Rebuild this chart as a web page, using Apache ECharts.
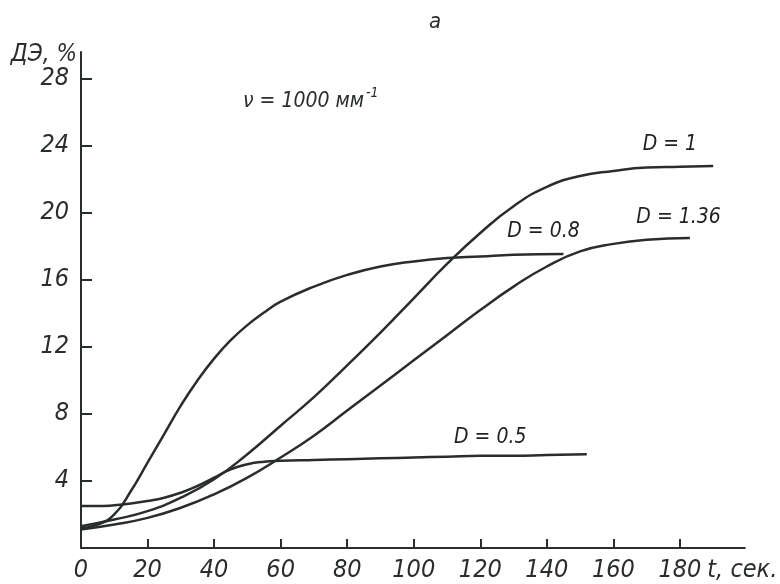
<!DOCTYPE html>
<html><head><meta charset="utf-8">
<script src="https://cdn.jsdelivr.net/npm/echarts@6/dist/echarts.min.js"></script>
<style>html,body{margin:0;padding:0;background:#fff}#c{width:780px;height:584px}</style>
</head><body><div id="c"></div>
<script>
// x ticks and y ticks
const xTicks = [0, 20, 40, 60, 80, 100, 120, 140, 160, 180];
const yTicks = [4, 8, 12, 16, 20, 24, 28];

// series: [t, value]
const d05 = [[0,2.5],[5,2.5],[10,2.55],[15,2.65],[20,2.8],[25,3.0],[30,3.3],[35,3.7],[40,4.2],[45,4.7],[50,5.0],[55,5.15],[60,5.2],[70,5.25],[80,5.3],[90,5.35],[100,5.4],[110,5.45],[120,5.5],[130,5.5],[140,5.55],[152,5.6]];
const d08 = [[0,1.2],[5,1.4],[10,2.0],[15,3.4],[20,5.1],[25,6.8],[30,8.5],[35,10.0],[40,11.3],[45,12.4],[50,13.3],[55,14.05],[60,14.7],[70,15.6],[80,16.3],[90,16.8],[100,17.1],[110,17.3],[120,17.4],[130,17.5],[145,17.55]];
const d1 = [[0,1.3],[10,1.7],[20,2.2],[30,3.0],[40,4.1],[50,5.6],[60,7.3],[70,9.0],[80,10.9],[90,12.85],[100,14.9],[110,16.95],[120,18.8],[130,20.4],[140,21.55],[150,22.2],[160,22.5],[170,22.7],[180,22.75],[190,22.8]];
const d136 = [[0,1.1],[10,1.4],[20,1.8],[30,2.4],[40,3.2],[50,4.2],[60,5.4],[70,6.7],[80,8.2],[90,9.7],[100,11.2],[110,12.7],[120,14.2],[130,15.6],[140,16.8],[150,17.7],[160,18.15],[170,18.4],[183,18.5]];

const curveLabels = ['D = 0.5', 'D = 0.8', 'D = 1', 'D = 1.36'];
const labelPos = [[123,6.6],[139,18.9],[177,24.1],[179.6,19.7]];

const FONT = "'DejaVu Sans Condensed', 'DejaVu Sans', sans-serif";
const INK = '#2a2e2a';

const chart = echarts.init(document.getElementById('c'), null, {renderer:'canvas'});

function line(data){
  return {type:'line', data:data, smooth:0.5, symbol:'none', lineStyle:{color:INK, width:2.5}, z:2};
}

chart.setOption({
  animation:false,
  backgroundColor:'#fff',
  title:{text:'a', left:424, top:6, textStyle:{fontFamily:FONT, fontStyle:'italic', fontWeight:'normal', fontSize:22, color:INK}},
  grid:{left:81, right:32, top:52, bottom:36},
  xAxis:{type:'value', min:0, max:199.5, interval:20,
    axisLine:{lineStyle:{color:INK, width:2}},
    axisTick:{inside:true, length:9, lineStyle:{color:INK, width:2}, customValues:xTicks},
    axisLabel:{customValues:xTicks, color:INK, fontFamily:FONT, fontStyle:'italic', fontSize:25, margin:10},
    splitLine:{show:false},
    name:'t, сек.', nameLocation:'end', nameGap:-44,
    nameTextStyle:{color:INK, fontFamily:FONT, fontStyle:'italic', fontSize:25, align:'left', verticalAlign:'top', padding:[10,0,0,0]}
  },
  yAxis:{type:'value', min:0, max:29.6, interval:4,
    axisLine:{show:true, lineStyle:{color:INK, width:2}},
    axisTick:{show:true, inside:true, length:11, lineStyle:{color:INK, width:2}, customValues:yTicks},
    axisLabel:{customValues:yTicks, color:INK, fontFamily:FONT, fontStyle:'italic', fontSize:25, margin:12},
    splitLine:{show:false},
    name:'ДЭ, %', nameLocation:'end', nameGap:-6,
    nameTextStyle:{color:INK, fontFamily:FONT, fontStyle:'italic', fontSize:24, align:'right', verticalAlign:'middle', padding:[0,4,0,0]}
  },
  graphic:[{type:'text', left:243, top:86, style:{
    text:'{a|ν = 1000 мм}{s|-1}',
    rich:{a:{fontFamily:FONT, fontStyle:'italic', fontSize:21, fill:INK, verticalAlign:'bottom'},
          s:{fontFamily:FONT, fontStyle:'italic', fontSize:14, fill:INK, verticalAlign:'top', padding:[0,0,12,2]}}
  }}],
  series:[
    line(d05), line(d08), line(d1), line(d136),
    {type:'scatter', symbolSize:0, z:3, silent:true,
     data:labelPos.map((p,i)=>({value:p, name:curveLabels[i]})),
     label:{show:true, position:'inside', formatter:'{b}', color:'#1e221e', opacity:1, fontFamily:FONT, fontStyle:'italic', fontSize:21}}
  ]
});
</script></body></html>
